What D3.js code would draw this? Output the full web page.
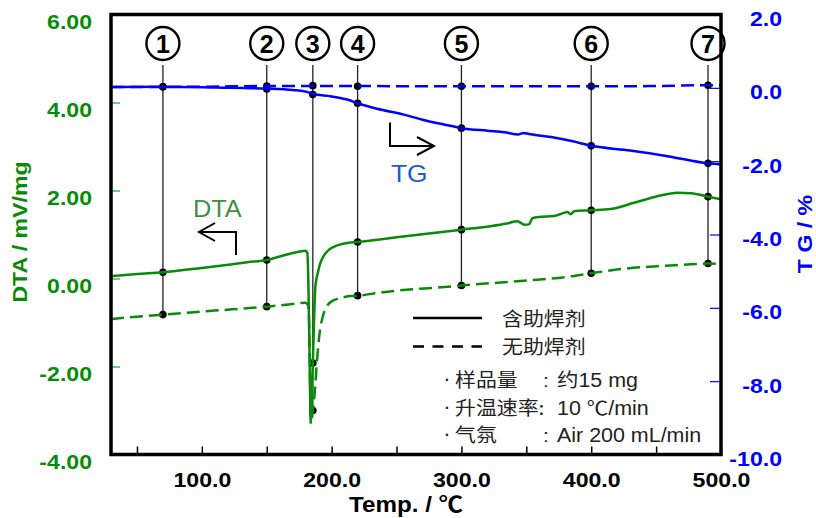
<!DOCTYPE html>
<html>
<head>
<meta charset="utf-8">
<script src="https://cdn.jsdelivr.net/npm/d3@7"></script>
<style>
  body { margin: 0; background: #fff; }
  text { font-family: "Liberation Sans", Arial, "Noto Sans CJK SC", sans-serif; }
</style>
</head>
<body>
<div id="chart"></div>
<script>
// DTA, with flux (solid) : [temperature, mV/mg]
const dtaFlux = [
  [30, 0.05], [50, 0.10], [70, 0.14], [100, 0.24], [122, 0.32], [135, 0.37], [150, 0.42],
  [160, 0.50], [170, 0.58], [180, 0.63], [181.3, 0.58], [182, 0.0], [182.6, -1.0],
  [183.2, -2.2], [183.8, -3.2], [184.4, -2.9], [185.5, -1.92], [187.5, -0.18], [189.5, 0.15],
  [191.4, 0.36], [194, 0.52], [197.8, 0.65], [205, 0.76], [213, 0.81], [220, 0.83],
  [240, 0.90], [260, 0.97], [280, 1.04], [300, 1.11], [322.5, 1.19], [335, 1.25], [343, 1.30],
  [346, 1.26], [348.5, 1.22], [352, 1.23], [354.7, 1.37], [360, 1.40], [371.4, 1.42],
  [377.8, 1.48], [381.7, 1.51], [384.2, 1.46], [386.8, 1.53], [400, 1.55], [415, 1.58],
  [433, 1.72], [451, 1.87], [466.6, 1.95], [477, 1.94], [490, 1.86], [500, 1.80]
];
// DTA, without flux (dashed)
const dtaNoFlux = [
  [30, -0.92], [70, -0.82], [110, -0.73], [150, -0.64], [170, -0.58], [179.7, -0.55],
  [182, -0.62], [182.8, -1.2], [183.4, -2.4], [184, -3.3], [185.5, -3.0], [186.5, -2.75],
  [188.8, -1.84], [190.5, -1.3], [192.6, -0.93], [195.5, -0.68], [199, -0.54], [206, -0.45],
  [214.5, -0.40], [220, -0.39], [237.6, -0.32], [260, -0.25], [280, -0.21], [300, -0.16],
  [330, -0.09], [353, -0.04], [382, 0.04], [400, 0.12], [425, 0.22], [451, 0.28],
  [470, 0.31], [490, 0.34], [500, 0.33]
];
// TG, with flux (solid) : [temperature, %]
const tgFlux = [
  [30, 0.02], [70, 0.03], [110, 0.01], [150, -0.02], [170, -0.06], [181, -0.11], [186, -0.17],
  [199, -0.23], [212, -0.32], [220, -0.42], [235, -0.57], [255.6, -0.73], [270, -0.87],
  [286.5, -1.0], [300, -1.10], [320, -1.17], [333, -1.21], [344, -1.27], [348, -1.23],
  [352, -1.26], [356, -1.28], [369, -1.34], [385, -1.45], [400, -1.58], [430, -1.71],
  [460, -1.87], [490, -2.06], [500, -2.09]
];
// TG, without flux (dashed)
const tgNoFlux = [
  [30, 0.02], [100, 0.03], [150, 0.05], [200, 0.05], [300, 0.04], [400, 0.04],
  [450, 0.05], [490, 0.07], [500, 0.07]
];

// marked temperatures and the readings at each
const markerTemps = [70, 150, 185.5, 220, 300, 400, 490];
const markerLabels = ["1", "2", "3", "4", "5", "6", "7"];
const markDtaFlux = [0.14, 0.42, -1.92, 0.83, 1.11, 1.55, 1.86];
const markDtaNoFlux = [-0.82, -0.64, -3.0, -0.39, -0.16, 0.12, 0.34];
const markTgFlux = [0.03, -0.03, -0.18, -0.42, -1.10, -1.58, -2.06];
const markTgNoFlux = [0.03, 0.05, 0.06, 0.04, 0.04, 0.04, 0.07];

const xTicks = [50, 100, 150, 200, 250, 300, 350, 400, 450, 500];
const dtaTicks = [6, 4, 2, 0, -2, -4];
const tgTicks = [2, 0, -2, -4, -6, -8, -10];

const legendNames = ["含助焊剂", "无助焊剂"];
const infoKeys = ["样品量", "升温速率", "气氛"];
const infoValues = ["约15 mg", "10 ℃/min", "Air 200 mL/min"];

const width = 816, height = 518;
const plot = { left: 111, right: 721, top: 14.5, bottom: 454.5 };
const green = "#0a8a0a", blue = "#0000ff";
const sx = 1.1; // text in the picture is a little wider than Arial

const x = d3.scaleLinear().domain([30, 500]).range([plot.left, plot.right]);
const yDta = d3.scaleLinear().domain([-4, 6]).range([plot.bottom, plot.top]);
const yTg = d3.scaleLinear().domain([-10, 2]).range([plot.bottom, plot.top]);

const svg = d3.select("#chart").append("svg")
  .attr("width", width)
  .attr("height", height);

function stretched(sel, tx, ty, rot) {
  return sel.attr("x", 0).attr("y", 0)
    .attr("transform", "translate(" + tx + "," + ty + ")" + (rot ? " rotate(" + rot + ")" : "") + " scale(" + sx + ",1)");
}

/** Axes */
const leftAxis = d3.axisLeft(yDta).tickValues(dtaTicks).tickSize(-9).tickFormat(d => d.toFixed(2));
const gl = svg.append("g").attr("transform", "translate(" + plot.left + ",0)").call(leftAxis);
gl.select("path.domain").remove();
gl.selectAll("line").attr("stroke", "#5aa85a").attr("stroke-width", 1.5);
gl.selectAll("text").each(function() {
  stretched(d3.select(this), -19, 14, 0);
}).attr("dy", null).attr("text-anchor", "end")
  .attr("fill", green).style("font-size", "21px").style("font-weight", "bold");

const rightAxis = d3.axisRight(yTg).tickValues(tgTicks).tickSize(-11).tickFormat(d => d.toFixed(1));
const gr = svg.append("g").attr("transform", "translate(" + plot.right + ",0)").call(rightAxis);
gr.select("path.domain").remove();
gr.selectAll("line").attr("stroke", blue).attr("stroke-width", 1.2);
gr.selectAll("text").each(function() {
  stretched(d3.select(this), 61, 11, 0);
}).attr("dy", null).attr("text-anchor", "end")
  .attr("fill", blue).style("font-size", "21px").style("font-weight", "bold");

const bottomAxis = d3.axisBottom(x).tickValues(xTicks).tickSize(-8)
  .tickFormat(d => d % 100 === 0 ? d.toFixed(1) : "");
const gb = svg.append("g").attr("transform", "translate(0," + plot.bottom + ")").call(bottomAxis);
gb.select("path.domain").remove();
gb.selectAll("line").attr("stroke", "#000").attr("stroke-width", 1.5);
gb.selectAll("text").each(function() {
  stretched(d3.select(this), 0, 32, 0);
}).attr("dy", null).attr("text-anchor", "middle")
  .attr("fill", "#000").style("font-size", "21px").style("font-weight", "bold");

/** Axis titles */
const xTitle = svg.append("text")
  .attr("text-anchor", "middle")
  .style("font-size", "22px").style("font-weight", "bold");
stretched(xTitle, 406, 512, 0);
xTitle.append("tspan").text("Temp. /  ");
xTitle.append("tspan").style("font-family", "'Noto Sans CJK SC'").style("font-weight", "bold").text("℃");

stretched(svg.append("text"), 27, 232, -90)
  .attr("text-anchor", "middle").attr("fill", green)
  .style("font-size", "21px").style("font-weight", "bold")
  .text("DTA / mV/mg");

stretched(svg.append("text"), 812, 234, -90)
  .attr("text-anchor", "middle").attr("fill", blue)
  .style("font-size", "21px").style("font-weight", "bold")
  .text("T G / %");

/** Marker lines */
const markers = markerTemps.map((t, i) => ({
  t: t, label: markerLabels[i],
  dots: [yDta(markDtaFlux[i]), yDta(markDtaNoFlux[i]), yTg(markTgFlux[i]), yTg(markTgNoFlux[i])]
}));

const mk = svg.append("g").attr("id", "markers");
mk.selectAll("line")
  .data(markers)
  .enter()
  .append("line")
  .attr("x1", d => x(d.t)).attr("x2", d => x(d.t))
  .attr("y1", 65).attr("y2", d => d3.max(d.dots))
  .attr("stroke", "#222").attr("stroke-width", 1.3);

/** Curves */
const dtaLine = d3.line().x(d => x(d[0])).y(d => yDta(d[1])).curve(d3.curveMonotoneX);
const tgLine = d3.line().x(d => x(d[0])).y(d => yTg(d[1])).curve(d3.curveMonotoneX);

const curves = svg.append("g").attr("fill", "none").attr("stroke-width", 2.5);
curves.append("path").attr("d", tgLine(tgNoFlux))
  .attr("stroke", blue).attr("stroke-dasharray", "13,6");
curves.append("path").attr("d", tgLine(tgFlux)).attr("stroke", blue);
curves.append("path").attr("d", dtaLine(dtaNoFlux))
  .attr("stroke", green).attr("stroke-dasharray", "13,6");
curves.append("path").attr("d", dtaLine(dtaFlux)).attr("stroke", green);

/** Dots on marker lines */
mk.selectAll("g.dots")
  .data(markers)
  .enter()
  .append("g")
  .attr("class", "dots")
  .each(function(d) {
    d3.select(this).selectAll("circle")
      .data(d.dots)
      .enter()
      .append("circle")
      .attr("cx", x(d.t)).attr("cy", y => y)
      .attr("r", 3.8).attr("fill", "#000");
  });

/** Circled numbers */
const badge = svg.append("g").selectAll("g")
  .data(markers)
  .enter()
  .append("g")
  .attr("transform", d => "translate(" + x(d.t) + ",43.5)");
badge.append("circle").attr("r", 16.5).attr("fill", "#fff").attr("stroke", "#000").attr("stroke-width", 2.4);
badge.append("text")
  .attr("text-anchor", "middle").attr("y", 9)
  .style("font-size", "25px").style("font-weight", "bold")
  .text(d => d.label);

/** Curve labels with arrows */
stretched(svg.append("text"), 193, 216.5, 0)
  .attr("fill", "#3f8f3f").style("font-size", "23px")
  .text("DTA");
svg.append("path")
  .attr("d", "M236,255V232H199M215,223L199,232L215,241")
  .attr("fill", "none").attr("stroke", "#000").attr("stroke-width", 2);

stretched(svg.append("text"), 391, 182, 0)
  .attr("fill", "#1c5bd0").style("font-size", "24px")
  .text("TG");
svg.append("path")
  .attr("d", "M390,122.5V146H434M417,137L434,146L417,155")
  .attr("fill", "none").attr("stroke", "#000").attr("stroke-width", 2);

/** Legend */
const legend = svg.append("g").attr("id", "legend");
legend.selectAll("line")
  .data(legendNames)
  .enter()
  .append("line")
  .attr("x1", 413).attr("x2", 482)
  .attr("y1", (d, i) => 318 + i * 28.5).attr("y2", (d, i) => 318 + i * 28.5)
  .attr("stroke", "#000").attr("stroke-width", 2.5)
  .attr("stroke-dasharray", (d, i) => i ? "11,8.5" : null);
legend.selectAll("text.name")
  .data(legendNames)
  .enter()
  .append("text")
  .attr("class", "name")
  .each(function(d, i) { stretched(d3.select(this), 502, 325.5 + i * 28.5, 0); })
  .attr("fill", "#222").style("font-family", "'Noto Sans CJK SC'").style("font-size", "19px")
  .text(d => d);

const info = legend.selectAll("g.info")
  .data(infoKeys)
  .enter()
  .append("g")
  .attr("class", "info")
  .attr("transform", (d, i) => "translate(0," + (387 + i * 27.5) + ")");
info.append("text")
  .attr("x", 447).attr("y", -1).attr("fill", "#222").attr("text-anchor", "middle")
  .style("font-size", "22px").text("·");
info.append("text")
  .each(function(d) { stretched(d3.select(this), 455, 0, 0); })
  .attr("fill", "#222").style("font-family", "'Noto Sans CJK SC'").style("font-size", "19px")
  .text((d, i) => i === 1 ? d + ":" : d);
info.filter((d, i) => i !== 1).append("text")
  .each(function() { stretched(d3.select(this), 543, 0, 0); })
  .attr("fill", "#222").style("font-size", "19px")
  .text(":");
info.append("text")
  .each(function() { stretched(d3.select(this), 557, 0, 0); })
  .attr("fill", "#222").style("font-size", "19.5px")
  .text((d, i) => infoValues[i]);

/** Frame */
svg.append("rect")
  .attr("x", plot.left).attr("y", plot.top)
  .attr("width", plot.right - plot.left).attr("height", plot.bottom - plot.top)
  .attr("fill", "none").attr("stroke", "#000").attr("stroke-width", 3.5);
</script>
</body>
</html>
